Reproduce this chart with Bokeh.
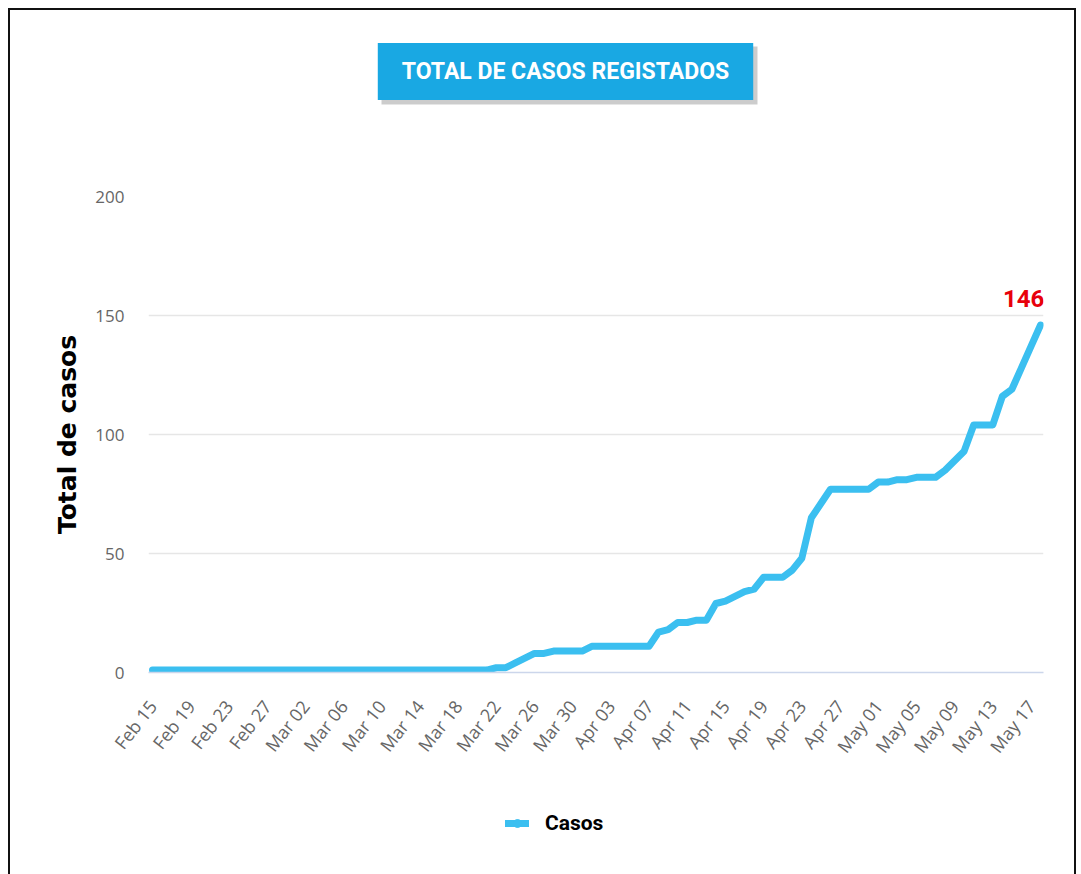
import math
import pandas as pd
from bokeh.plotting import figure
from bokeh.layouts import column
from bokeh.models import (Range1d, FixedTicker, Label, Legend, LegendItem,
                          ColumnDataSource, BoxAnnotation)
from bokeh.embed import file_html
from bokeh.resources import INLINE

# ---- data -------------------------------------------------------------
fechas = list(pd.date_range("2020-02-15", "2020-05-18").strftime("%b %d"))
casos = [
    1, 1, 1, 1, 1, 1, 1, 1, 1, 1, 1, 1, 1, 1, 1, 1, 1, 1,
    1, 1, 1, 1, 1, 1, 1, 1, 1, 1, 1, 1, 1, 1, 1, 1, 1, 1,
    2, 2, 4, 6, 8, 8, 9, 9, 9, 9,
    11, 11, 11, 11, 11, 11, 11,
    17, 18, 21, 21, 22, 22,
    29, 30, 32, 34, 35,
    40, 40, 40, 43, 48,
    65, 71,
    77, 77, 77, 77, 77,
    80, 80, 81, 81,
    82, 82, 82,
    85, 89, 93,
    104, 104, 104,
    116, 119, 128, 137, 146,
]
tick_labels = ["Feb 15", "Feb 19", "Feb 23", "Feb 27", "Mar 02", "Mar 06", "Mar 10",
               "Mar 14", "Mar 18", "Mar 22", "Mar 26", "Mar 30", "Apr 03", "Apr 07",
               "Apr 11", "Apr 15", "Apr 19", "Apr 23", "Apr 27", "May 01", "May 05",
               "May 09", "May 13", "May 17"]
y_ticks = [0, 50, 100, 150, 200]
serie = "Casos"
titulo_txt = "TOTAL DE CASOS REGISTADOS"
eje_y_txt = "Total de casos"

AZUL = "#3bbff0"
AZUL_TITULO = "#19a8e3"

x = list(range(len(casos)))
src = ColumnDataSource(dict(x=x, y=casos))

# ---- title strip (page-pixel coordinates inside its frame) ------------
top = figure(width=1064, height=150, output_backend="svg", toolbar_location=None,
             x_axis_location=None, y_axis_location=None, min_border=0,
             outline_line_color=None,
             x_range=Range1d(148, 1043), y_range=Range1d(160, 10))
top.xgrid.grid_line_color = None
top.ygrid.grid_line_color = None
sombra = BoxAnnotation(left=381, right=757, top=46, bottom=104,
                       fill_color="#555555", fill_alpha=0.3, line_color=None)
top.add_layout(sombra)
titulo = Label(x=565, y=71, text=titulo_txt, text_font="Roboto",
               text_font_style="bold", text_font_size="23px", text_color="white",
               text_align="center", text_baseline="middle",
               background_fill_color=AZUL_TITULO,
               padding=dict(left=24, right=24, top=15, bottom=15))
top.add_layout(titulo)

# ---- main figure ------------------------------------------------------
p = figure(width=1064, height=630, output_backend="svg", toolbar_location=None,
           x_range=Range1d(-0.42, len(casos) - 1 + 0.31), y_range=Range1d(0, 200),
           min_border_left=138, min_border_right=31, min_border_top=36,
           min_border_bottom=118)
p.background_fill_color = "white"
p.border_fill_color = "white"
p.outline_line_color = None

r = p.line("x", "y", source=src, line_width=7, line_color=AZUL,
           line_join="round", line_cap="round")

tick_pos = [fechas.index(t) for t in tick_labels]
p.xaxis.ticker = FixedTicker(ticks=tick_pos)
p.xaxis.major_label_overrides = {t: lab for t, lab in zip(tick_pos, tick_labels)}
p.xaxis.major_label_orientation = math.radians(52)
p.xaxis.axis_line_color = "#ccd6eb"
p.xaxis.axis_line_width = 1.5
p.xaxis.major_tick_line_color = None
p.xaxis.minor_tick_line_color = None
p.xaxis.major_label_text_font = "Open Sans"
p.xaxis.major_label_text_font_size = "18px"
p.xaxis.major_label_text_color = "#666666"
p.xaxis.major_label_standoff = 24

p.yaxis.ticker = FixedTicker(ticks=y_ticks)
p.yaxis.axis_line_color = None
p.yaxis.major_tick_line_color = None
p.yaxis.minor_tick_line_color = None
p.yaxis.major_label_text_font = "Open Sans"
p.yaxis.major_label_text_font_size = "17px"
p.yaxis.major_label_text_color = "#666666"
p.yaxis.major_label_standoff = 18
p.yaxis.axis_label = eje_y_txt
p.yaxis.axis_label_text_font = "DejaVu Sans"
p.yaxis.axis_label_text_font_style = "bold"
p.yaxis.axis_label_text_font_size = "25px"
p.yaxis.axis_label_text_color = "#000000"
p.yaxis.axis_label_standoff = 10

p.xgrid.grid_line_color = None
p.ygrid.ticker = FixedTicker(ticks=y_ticks)
p.ygrid.grid_line_color = "#e6e6e6"
p.ygrid.grid_line_width = 1.5

ultimo = Label(x=x[-1], y=casos[-1], x_offset=-17, y_offset=27,
               text=str(casos[-1]), text_font="Roboto",
               text_font_style="bold", text_font_size="24px", text_color="#e8000b",
               text_align="center", text_baseline="middle")
p.add_layout(ultimo)

# ---- legend strip -----------------------------------------------------
leg = figure(width=1064, height=84, output_backend="svg", toolbar_location=None,
             x_axis_location=None, y_axis_location=None,
             min_border=0, outline_line_color=None,
             x_range=Range1d(-1000, -999), y_range=Range1d(-1000, -999))
leg.xgrid.grid_line_color = None
leg.ygrid.grid_line_color = None
leg_line = leg.line("x", "y", source=src, line_width=7, line_color=AZUL,
                    line_join="round", line_cap="round")
leg_dot = leg.scatter("x", "y", source=src, marker="circle", size=14,
                      fill_color=AZUL, line_color=AZUL)
legend = Legend(items=[LegendItem(label=serie, renderers=[leg_line, leg_dot])],
                location=(357, 39), orientation="horizontal",
                border_line_color=None, background_fill_alpha=0,
                label_text_font="Roboto", label_text_font_style="bold",
                label_text_font_size="21px", label_text_color="#000000",
                glyph_width=24, glyph_height=20, label_standoff=16,
                margin=0, padding=0)
leg.add_layout(legend)

layout = column(top, p, leg, spacing=0,
                styles={"border": "2px solid #111", "margin-left": "8px",
                        "margin-top": "8px"})

open("out.html", "w").write(file_html(layout, INLINE))
